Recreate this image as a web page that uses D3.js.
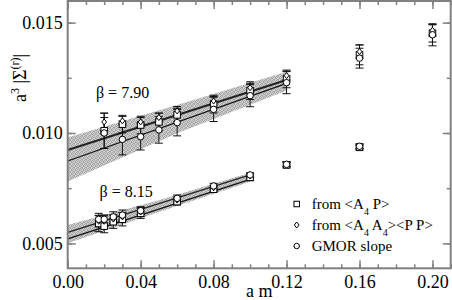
<!DOCTYPE html>
<html>
<head>
<meta charset="utf-8">
<script src="https://cdn.jsdelivr.net/npm/d3@7"></script>
<style>
  body { margin: 0; background: #fff; }
  svg { display: block; font-family: "Liberation Serif", "DejaVu Serif", serif; }
</style>
</head>
<body>
<div id="chart"></div>
<script>
// beta = 7.90
const mass790 = [0.02, 0.03, 0.04, 0.05, 0.06, 0.08, 0.10, 0.12, 0.16, 0.20];
const a4p790 = [0.0101, 0.0104, 0.01036, 0.0105, 0.01082, 0.01131, 0.01192, 0.01245, 0.01354, 0.01452];
const a4pErr790 = [0.0008, 0.0004, 0.0004, 0.0004, 0.0003, 0.0004, 0.0004, 0.0004, 0.00045, 0.0004];
const a4a4790 = [0.0105, 0.01055, 0.0105, 0.0107, 0.0110, 0.01145, 0.01205, 0.0126, 0.01369, 0.01465];
const a4a4Err790 = [0.0004, 0.0002, 0.0002, 0.0002, 0.0002, 0.0002, 0.0002, 0.0002, 0.0003, 0.00025];
const gmor790 = [0.0100, 0.00971, 0.00983, 0.01014, 0.01047, 0.01107, 0.01169, 0.01228, 0.01339, 0.01445];
const gmorErr790 = [0.0007, 0.0007, 0.0006, 0.0006, 0.0006, 0.00055, 0.0005, 0.0005, 0.00045, 0.0005];

// beta = 8.15
const mass815 = [0.017, 0.02, 0.025, 0.03, 0.04, 0.06, 0.08, 0.10, 0.12, 0.16];
const a4p815 = [0.0059, 0.00578, 0.00598, 0.00609, 0.00636, 0.00689, 0.00745, 0.00799, 0.00855, 0.00935];
const a4pErr815 = [0.00037, 0.0003, 0.0003, 0.0003, 0.00023, 0.00015, 0.00011, 0.00015, 0.00012, 0.0001];
const a4a4815 = [0.006, 0.006, 0.0061, 0.0062, 0.00642, 0.00696, 0.00752, 0.00805, 0.0086, 0.0094];
const a4a4Err815 = [0.00025, 0.00025, 0.0002, 0.0002, 0.0002, 0.00015, 0.0001, 0.0001, 0.0001, 0.0001];
const gmor815 = [0.00609, 0.00609, 0.0062, 0.00628, 0.00648, 0.00704, 0.0076, 0.0081, 0.00858, 0.0094];
const gmorErr815 = [0.00027, 0.0002, 0.00023, 0.00023, 0.00018, 0.00015, 0.00012, 0.0001, 0.0001, 0.0001];

// chiral fits: [am, value] end points, and error bands
const fitA790 = [[0, 0.00923], [0.12, 0.0124]];
const fitB790 = [[0, 0.00873], [0.12, 0.01225]];
const bandX790 = [0, 0.06, 0.12];
const bandA790Lo = [0.00866, 0.01037, 0.01202];
const bandA790Hi = [0.0098, 0.01127, 0.01278];
const bandB790Lo = [0.0078, 0.00999, 0.01192];
const bandB790Hi = [0.00966, 0.01099, 0.01258];

const fitA815 = [[0, 0.0055], [0.10, 0.0081]];
const fitB815 = [[0, 0.0052], [0.10, 0.0079]];
const bandX815 = [0, 0.05, 0.10];
const bandA815Lo = [0.0052, 0.00665, 0.00795];
const bandA815Hi = [0.00583, 0.00695, 0.0082];
const bandB815Lo = [0.0050, 0.00642, 0.00779];
const bandB815Hi = [0.0056, 0.00672, 0.00805];

const xTicks = [0, 0.04, 0.08, 0.12, 0.16, 0.20];
const xMinor = d3.range(0, 0.2101, 0.01);
const yTicks = [0.005, 0.010, 0.015];
const yMinor = [0.005, 0.0075, 0.010, 0.0125, 0.015];

const legendRows = [
  { symbol: 'square', parts: [['from <A'], ['4', 'sub'], [' P>']] },
  { symbol: 'diamond', parts: [['from <A'], ['4', 'sub'], [' A'], ['4', 'sub'], ['><P P>']] },
  { symbol: 'circle', parts: [['GMOR slope']] }
];

const width = 452;
const height = 300;
const plotL = 67.7, plotR = 450.7, plotT = 1, plotB = 268.3;

const svg = d3.select('#chart').append('svg')
  .attr('width', width)
  .attr('height', height);

// stipple pattern for the error bands (irregular dots, 4x4 tile)
const pat = svg.append('defs').append('pattern')
  .attr('id', 'stip')
  .attr('width', 4).attr('height', 4)
  .attr('patternUnits', 'userSpaceOnUse');
pat.append('rect').attr('width', 4).attr('height', 4).attr('fill', '#d4d4d4');
[[0, 0], [2, 0], [1, 1], [3, 2], [0, 2], [2, 3], [1, 3], [3, 1]].forEach(([px, py]) => {
  pat.append('rect').attr('x', px).attr('y', py).attr('width', 1).attr('height', 1)
    .attr('fill', '#a2a2a2');
});

const x = d3.scaleLinear().domain([0, 0.21]).range([plotL, plotR]);
const y = d3.scaleLinear().domain([0.00387, 0.01598]).range([plotB, plotT]);

const area = d3.area()
  .x((d) => x(d[0]))
  .y0((d) => y(d[1]))
  .y1((d) => y(d[2]));

function band(xs, lo, hi) {
  svg.append('path')
    .datum(xs.map((v, i) => [v, lo[i], hi[i]]))
    .attr('d', area)
    .attr('fill', 'url(#stip)');
}
band(bandX790, bandA790Lo, bandA790Hi);
band(bandX790, bandB790Lo, bandB790Hi);
band(bandX815, bandA815Lo, bandA815Hi);
band(bandX815, bandB815Lo, bandB815Hi);

const line = d3.line().x((d) => x(d[0])).y((d) => y(d[1]));
[[fitA790, 2, '#222'], [fitB790, 1.2, '#111'], [fitA815, 1.2, '#222'], [fitB815, 1.2, '#111']]
  .forEach(([d, w, c]) => {
    svg.append('path').datum(d).attr('d', line)
      .attr('fill', 'none').attr('stroke', c).attr('stroke-width', w);
  });

function drawSymbol(g, type, cx, cy, s) {
  if (type === 'square') {
    g.append('rect').attr('x', cx - s / 2).attr('y', cy - s / 2)
      .attr('width', s).attr('height', s)
      .attr('fill', '#fff').attr('stroke', '#000').attr('stroke-width', 1);
  } else if (type === 'diamond') {
    const h = s / 2;
    g.append('path')
      .attr('d', `M${cx},${cy - h}L${cx + h * 0.8},${cy}L${cx},${cy + h}L${cx - h * 0.8},${cy}Z`)
      .attr('fill', '#fff').attr('stroke', '#000').attr('stroke-width', 1);
  } else {
    g.append('circle').attr('cx', cx).attr('cy', cy).attr('r', s / 2)
      .attr('fill', '#fff').attr('stroke', '#000').attr('stroke-width', 1);
  }
}

const series = [
  [mass790, a4p790, a4pErr790, 'square'],
  [mass790, a4a4790, a4a4Err790, 'diamond'],
  [mass790, gmor790, gmorErr790, 'circle'],
  [mass815, a4p815, a4pErr815, 'square'],
  [mass815, a4a4815, a4a4Err815, 'diamond'],
  [mass815, gmor815, gmorErr815, 'circle']
];

const errG = svg.append('g').attr('stroke', '#111').attr('stroke-width', 1);
series.forEach(([xs, ys, es]) => {
  xs.forEach((m, i) => {
    const px = x(m);
    const y0 = y(ys[i] - es[i]);
    const y1 = y(ys[i] + es[i]);
    errG.append('line').attr('x1', px).attr('x2', px).attr('y1', y0).attr('y2', y1);
    errG.append('line').attr('x1', px - 4).attr('x2', px + 4).attr('y1', y0).attr('y2', y0);
    errG.append('line').attr('x1', px - 4).attr('x2', px + 4).attr('y1', y1).attr('y2', y1);
  });
});

const symG = svg.append('g');
series.forEach(([xs, ys, , sym]) => {
  xs.forEach((m, i) => drawSymbol(symG, sym, x(m), y(ys[i]), sym === 'diamond' ? 6 : 6.5));
});

// frame and ticks, all pointing inward
const axisColor = '#808080';
function styleAxis(g, labels) {
  g.select('.domain').remove();
  g.selectAll('line').attr('stroke', axisColor).attr('stroke-width', 1.5);
  if (!labels) g.selectAll('text').remove();
  else g.selectAll('text').attr('fill', '#000').style('font-size', '18px')
    .style('font-family', '"Liberation Serif", serif');
}

svg.append('g').attr('transform', `translate(0,${plotB})`)
  .call(d3.axisBottom(x).tickValues(xMinor).tickSize(-4).tickFormat(''))
  .call((g) => styleAxis(g, false));
svg.append('g').attr('transform', `translate(0,${plotB})`)
  .call(d3.axisBottom(x).tickValues(xTicks).tickSize(-8).tickPadding(7).tickFormat(d3.format('.2f')))
  .call((g) => styleAxis(g, true));
svg.append('g').attr('transform', `translate(0,${plotT})`)
  .call(d3.axisTop(x).tickValues(xMinor).tickSize(-4).tickFormat(''))
  .call((g) => styleAxis(g, false));
svg.append('g').attr('transform', `translate(0,${plotT})`)
  .call(d3.axisTop(x).tickValues(xTicks).tickSize(-8).tickFormat(''))
  .call((g) => styleAxis(g, false));

svg.append('g').attr('transform', `translate(${plotL},0)`)
  .call(d3.axisLeft(y).tickValues(yMinor).tickSize(-4).tickFormat(''))
  .call((g) => styleAxis(g, false));
svg.append('g').attr('transform', `translate(${plotL},0)`)
  .call(d3.axisLeft(y).tickValues(yTicks).tickSize(-8).tickPadding(5).tickFormat(d3.format('.3f')))
  .call((g) => styleAxis(g, true));
svg.append('g').attr('transform', `translate(${plotR},0)`)
  .call(d3.axisRight(y).tickValues(yMinor).tickSize(-4).tickFormat(''))
  .call((g) => styleAxis(g, false));
svg.append('g').attr('transform', `translate(${plotR},0)`)
  .call(d3.axisRight(y).tickValues(yTicks).tickSize(-8).tickFormat(''))
  .call((g) => styleAxis(g, false));

svg.append('rect')
  .attr('x', plotL).attr('y', plotT)
  .attr('width', plotR - plotL).attr('height', plotB - plotT)
  .attr('fill', 'none').attr('stroke', axisColor).attr('stroke-width', 2);

// axis titles
svg.append('text')
  .attr('x', (plotL + plotR) / 2).attr('y', 297)
  .attr('text-anchor', 'middle')
  .style('font-size', '18px')
  .text('a m');

const yl = svg.append('text')
  .attr('transform', 'translate(26,78) rotate(-90)')
  .attr('text-anchor', 'middle')
  .style('font-size', '18px');
yl.append('tspan').text('a');
yl.append('tspan').attr('baseline-shift', 'super').style('font-size', '12px').text('3');
yl.append('tspan').text(' |Σ');
yl.append('tspan').attr('baseline-shift', 'super').style('font-size', '12px').text('(r)');
yl.append('tspan').text('|');

// beta labels
svg.append('text').attr('x', x(0.0155)).attr('y', 98)
  .style('font-size', '16px').text('β = 7.90');
svg.append('text').attr('x', x(0.0175)).attr('y', 197)
  .style('font-size', '16px').text('β = 8.15');

// legend
const lg = svg.append('g');
legendRows.forEach((row, i) => {
  const cy = 204 + i * 21;
  drawSymbol(lg, row.symbol, 296.7, cy, row.symbol === 'diamond' ? 6 : 5.5);
  const t = lg.append('text').attr('x', 311.7).attr('y', cy + 5).style('font-size', '15px');
  row.parts.forEach(([s, kind]) => {
    const ts = t.append('tspan').text(s);
    if (kind === 'sub') ts.attr('baseline-shift', 'sub').style('font-size', '10px');
  });
});
</script>
</body>
</html>
